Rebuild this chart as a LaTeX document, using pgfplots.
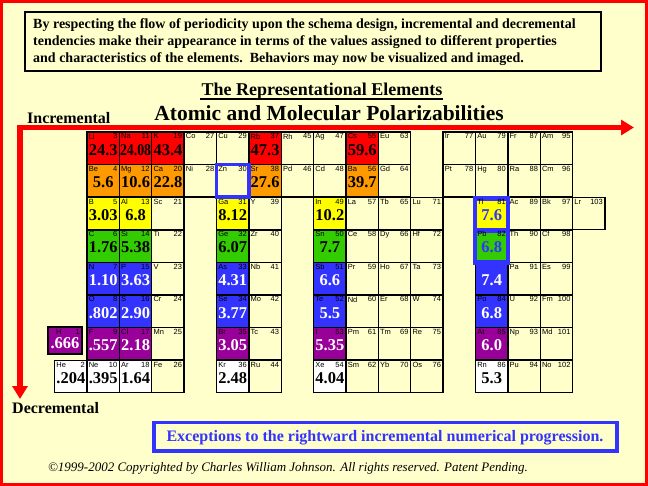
\documentclass[border=0pt]{standalone}
\usepackage{fontspec}
\setmainfont{Liberation Serif}
\newfontfamily\lsans{Liberation Sans}
\usepackage{graphicx}
\usepackage{pgfplots}
\pgfplotsset{compat=1.18}
\usepackage{pgfplotstable}
\usetikzlibrary{arrows.meta}

\definecolor{bg}{HTML}{FFFFCC}
\definecolor{cR}{HTML}{FF0000}
\definecolor{cO}{HTML}{FF9900}
\definecolor{cY}{HTML}{FFFF00}
\definecolor{cG}{HTML}{33CC00}
\definecolor{cB}{HTML}{3333FF}
\definecolor{cP}{HTML}{990099}
\definecolor{arrowred}{HTML}{FF0000}

\pgfplotstableread{
c r sym z cls
1 1 Li 3 R
2 1 Na 11 R
3 1 K 19 R
4 1 Co 27 E
5 1 Cu 29 E
6 1 Rb 37 R
7 1 Rh 45 E
8 1 Ag 47 E
9 1 Cs 55 R
10 1 Eu 63 E
12 1 Ir 77 E
13 1 Au 79 E
14 1 Fr 87 E
15 1 Am 95 E
1 2 Be 4 O
2 2 Mg 12 O
3 2 Ca 20 O
4 2 Ni 28 E
5 2 Zn 30 E
6 2 Sr 38 O
7 2 Pd 46 E
8 2 Cd 48 E
9 2 Ba 56 O
10 2 Gd 64 E
12 2 Pt 78 E
13 2 Hg 80 E
14 2 Ra 88 E
15 2 Cm 96 E
1 3 B 5 Y
2 3 Al 13 Y
3 3 Sc 21 E
5 3 Ga 31 Y
6 3 Y 39 E
8 3 In 49 Y
9 3 La 57 E
10 3 Tb 65 E
11 3 Lu 71 E
13 3 Tl 81 Y
14 3 Ac 89 E
15 3 Bk 97 E
16 3 Lr 103 E
1 4 C 6 G
2 4 Si 14 G
3 4 Ti 22 E
5 4 Ge 32 G
6 4 Zr 40 E
8 4 Sn 50 G
9 4 Ce 58 E
10 4 Dy 66 E
11 4 Hf 72 E
13 4 Pb 82 G
14 4 Th 90 E
15 4 Cf 98 E
1 5 N 7 B
2 5 P 15 B
3 5 V 23 E
5 5 As 33 B
6 5 Nb 41 E
8 5 Sb 51 B
9 5 Pr 59 E
10 5 Ho 67 E
11 5 Ta 73 E
13 5 {} {} B
14 5 Pa 91 E
15 5 Es 99 E
1 6 O 8 B
2 6 S 16 B
3 6 Cr 24 E
5 6 Se 34 B
6 6 Mo 42 E
8 6 Te 52 B
9 6 Nd 60 E
10 6 Er 68 E
11 6 W 74 E
13 6 Po 84 B
14 6 U 92 E
15 6 Fm 100 E
1 7 F 9 P
2 7 Cl 17 P
3 7 Mn 25 E
5 7 Br 35 P
6 7 Tc 43 E
8 7 I 53 P
9 7 Pm 61 E
10 7 Tm 69 E
11 7 Re 75 E
13 7 At 85 P
14 7 Np 93 E
15 7 Md 101 E
0 8 He 2 W
1 8 Ne 10 W
2 8 Ar 18 W
3 8 Fe 26 E
5 8 Kr 36 W
6 8 Ru 44 E
8 8 Xe 54 W
9 8 Sm 62 E
10 8 Yb 70 E
11 8 Os 76 E
13 8 Rn 86 W
14 8 Pu 94 E
15 8 No 102 E
}\cells

% values shown in black
\pgfplotstableread{
c r val
1 1 24.3
2 1 24.08
3 1 43.4
6 1 47.3
9 1 59.6
1 2 5.6
2 2 10.6
3 2 22.8
6 2 27.6
9 2 39.7
1 3 3.03
2 3 6.8
5 3 8.12
8 3 10.2
1 4 1.76
2 4 5.38
5 4 6.07
8 4 7.7
0 8 .204
1 8 .395
2 8 1.64
5 8 2.48
8 8 4.04
13 8 5.3
}\valsblack

% values shown in white
\pgfplotstableread{
c r val
1 5 1.10
2 5 3.63
5 5 4.31
8 5 6.6
13 5 7.4
1 6 .802
2 6 2.90
5 6 3.77
8 6 5.5
13 6 6.8
1 7 .557
2 7 2.18
5 7 3.05
8 7 5.35
13 7 6.0
}\valswhite

% values shown in blue (exceptions)
\pgfplotstableread{
c r val
13 3 7.6
13 4 6.8
}\valsblue

\newcommand\fitval[1]{\sbox0{#1}\ifdim\wd0>31bp\resizebox{31bp}{\ht0}{#1}\else\usebox0\fi}

\tikzset{cell/.style={mark=square*, draw=black, line width=1.4bp}}
\pgfplotsset{
  valstyle/.style={only marks, mark=none, point meta=explicit symbolic,
    nodes near coords={\textcolor{#1}{\fitval{\pgfplotspointmeta}}},
    nodes near coords style={font=\fontsize{16.5bp}{17bp}\selectfont\bfseries, anchor=center,
    inner sep=0pt, yshift=-1.5bp}},
  labstyle/.style={only marks, mark=none, nodes near coords, point meta=explicit symbolic,
    nodes near coords style={font=\lsans\fontsize{7.5bp}{8bp}\selectfont, inner sep=0pt, #1}}
}

\begin{document}
\begin{tikzpicture}
\fill[bg] (0,0) rectangle (648bp,486bp);
\begin{axis}[x=1bp, y=1bp, y dir=reverse, xmin=0, xmax=648, ymin=0, ymax=486,
  hide axis, clip=false, clip marker paths=true, anchor=south west, at={(0,0)}]

% element cells
\addplot[scatter, only marks, scatter src=explicit symbolic, mark size=16.2bp,
  scatter/classes={
    R={cell, fill=cR}, O={cell, fill=cO}, Y={cell, fill=cY}, G={cell, fill=cG},
    B={cell, fill=cB}, P={cell, fill=cP}, W={cell, fill=white}, E={cell, fill=bg}}]
  table[x expr=70.8125+32.375*\thisrow{c}, y expr=115.7+32.6*\thisrow{r}, meta=cls] {\cells};

% hydrogen cell
\addplot[fill=cP, draw=black, line width=1.4bp] coordinates {(48,327) (82,327) (82,354) (48,354)} -- cycle;

% exception highlights
\addplot[draw=cB, line width=3.5bp] coordinates {(216.5,164.6) (248.9,164.6) (248.9,197.2) (216.5,197.2)} -- cycle;
\addplot[fill=cB, draw=none] coordinates {(473,196) (510,196) (510,265) (473,265)} -- cycle;
\addplot[fill=cY, draw=none] coordinates {(477,201) (506,201) (506,228) (477,228)} -- cycle;
\addplot[fill=cG, draw=none] coordinates {(477,233) (506,233) (506,260) (477,260)} -- cycle;

% element symbols and atomic numbers
\addplot[labstyle={anchor=north west, xshift=-14.6bp, yshift=14.8bp}]
  table[x expr=70.8125+32.375*\thisrow{c}, y expr=115.7+32.6*\thisrow{r}, meta=sym] {\cells};
\addplot[labstyle={anchor=north east, xshift=14.2bp, yshift=14.8bp}]
  table[x expr=70.8125+32.375*\thisrow{c}, y expr=115.7+32.6*\thisrow{r}, meta=z] {\cells};
\addplot[labstyle={anchor=north west}] coordinates {(56,329) [H]};
\addplot[labstyle={anchor=north east}] coordinates {(80,329) [1]};

% values
\addplot[valstyle=black]
  table[x expr=70.8125+32.375*\thisrow{c}, y expr=115.7+32.6*\thisrow{r}, meta=val] {\valsblack};
\addplot[valstyle=white]
  table[x expr=70.8125+32.375*\thisrow{c}, y expr=115.7+32.6*\thisrow{r}, meta=val] {\valswhite};
\addplot[valstyle=cB]
  table[x expr=70.8125+32.375*\thisrow{c}, y expr=115.7+32.6*\thisrow{r}, meta=val] {\valsblue};
\addplot[valstyle=white] coordinates {(65,342) [.666]};

% decorations
\draw[black, line width=1.3bp] (25,12) rectangle (601,71);
\node[anchor=base west, font=\fontsize{14bp}{16bp}\selectfont\bfseries, inner sep=0pt] at (33,28)
  {By respecting the flow of periodicity upon the schema design, incremental and decremental};
\node[anchor=base west, font=\fontsize{14bp}{16bp}\selectfont\bfseries, inner sep=0pt] at (33,45)
  {tendencies make their appearance in terms of the values assigned to different properties};
\node[anchor=base west, font=\fontsize{14bp}{16bp}\selectfont\bfseries, inner sep=0pt] at (33,62)
  {and characteristics of the elements.\ \ Behaviors may now be visualized and imaged.};

\node[anchor=base, font=\fontsize{18bp}{20bp}\selectfont\bfseries, inner sep=0pt] at (322,95.5)
  {The Representational Elements};
\draw[black, line width=1.5bp] (200,99) -- (443,99);
\node[anchor=base, font=\fontsize{21.5bp}{24bp}\selectfont\bfseries, inner sep=0pt] at (329,120)
  {Atomic and Molecular Polarizabilities};
\node[anchor=base west, font=\fontsize{16bp}{18bp}\selectfont\bfseries, inner sep=0pt] at (27,123.5)
  {Incremental};
\node[anchor=base west, font=\fontsize{16bp}{18bp}\selectfont\bfseries, inner sep=0pt] at (12,413.5)
  {Decremental};

\draw[arrowred, line width=5bp, -{Triangle[length=13bp,width=15bp]}] (17.5,127.5) -- (634,127.5);
\draw[arrowred, line width=5bp, -{Triangle[length=13bp,width=15bp]}] (20,125) -- (20,399);

\draw[cB, line width=3.5bp] (154,422.5) rectangle (617,451);
\node[anchor=base, text=cB, font=\fontsize{16bp}{18bp}\selectfont\bfseries, inner sep=0pt] at (385,441)
  {Exceptions to the rightward incremental numerical progression.};
\node[anchor=base, font=\fontsize{13bp}{15bp}\selectfont\itshape, inner sep=0pt] at (288,471)
  {\textcopyright 1999-2002 Copyrighted by Charles William Johnson. All rights reserved. Patent Pending.};

\draw[arrowred, line width=3bp] (1.5,1.5) rectangle (646.5,484.5);
\end{axis}
\end{tikzpicture}
\end{document}
